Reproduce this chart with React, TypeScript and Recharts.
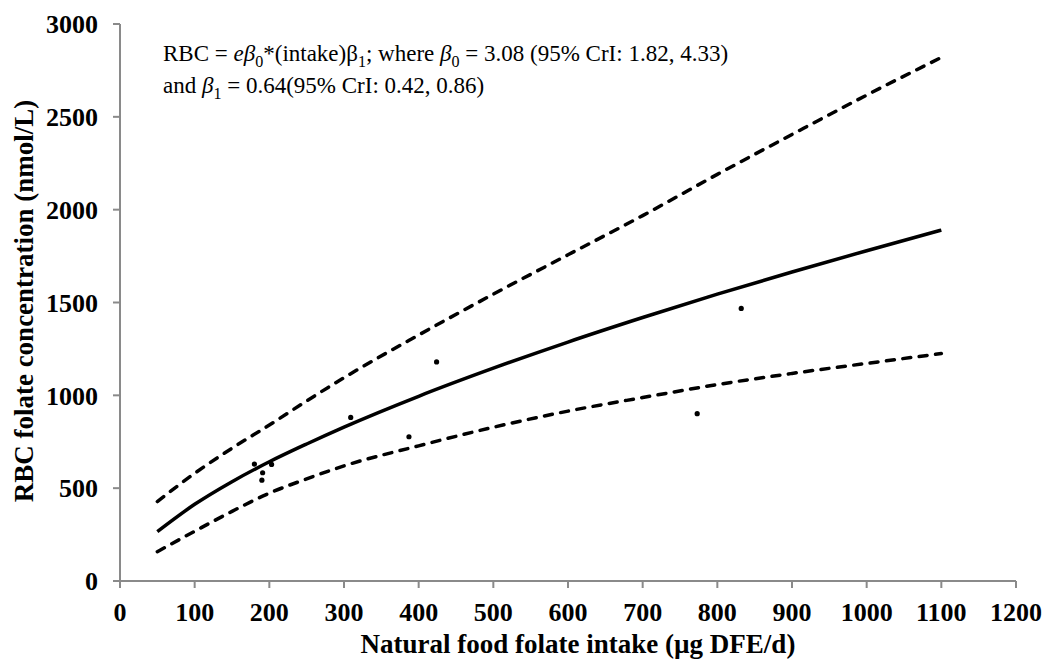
import React from "react";
import {
  ComposedChart,
  Line,
  Scatter,
  XAxis,
  YAxis,
  Label,
} from "recharts";

// fitted curve and 95% CrI band
const intakeGrid = [50, 100, 150, 200, 250, 300, 400, 500, 600, 700, 800, 900, 1000, 1100];
const fittedRbc = [266, 413, 535, 642, 738, 829, 995, 1146, 1287, 1419, 1545, 1664, 1779, 1890];
const upperRbc = [428, 580, 715, 840, 970, 1095, 1325, 1545, 1757, 1968, 2190, 2405, 2617, 2820];
const lowerRbc = [158, 268, 375, 473, 550, 620, 728, 828, 915, 988, 1058, 1118, 1172, 1225];

// observed study points
const obsIntake = [180, 190, 191, 203, 309, 387, 424, 773, 832];
const obsRbc = [630, 543, 583, 628, 881, 777, 1180, 901, 1468];

const xTicks = [0, 100, 200, 300, 400, 500, 600, 700, 800, 900, 1000, 1100, 1200];
const yTicks = [0, 500, 1000, 1500, 2000, 2500, 3000];

const FONT = "'Liberation Serif', 'Times New Roman', serif";
const AXIS = "#8a8a8a";

const curveRows = intakeGrid.map((x, i) => ({
  intake: x,
  fit: fittedRbc[i],
  upper: upperRbc[i],
  lower: lowerRbc[i],
}));

const pointRows = obsIntake.map((x, i) => ({ intake: x, rbc: obsRbc[i] }));

const tickStyle = { fontFamily: FONT, fontSize: 26, fontWeight: 700, fill: "#000" };
const subStyle = { fontSize: "0.7em", verticalAlign: "sub", lineHeight: 0 } as const;

const Dot = (p: any) => <circle cx={p.cx} cy={p.cy} r={2.6} fill="#000" />;

export default function App() {
  return (
    <div style={{ position: "absolute", left: 0, top: 0, width: 1046, height: 663, background: "#fff" }}>
      <ComposedChart
        width={1046}
        height={663}
        data={curveRows}
        margin={{ top: 24, right: 30, bottom: 0, left: 0 }}
      >
        <XAxis
          type="number"
          dataKey="intake"
          domain={[0, 1200]}
          ticks={xTicks}
          interval={0}
          height={82}
          tickSize={7}
          tickMargin={15}
          axisLine={{ stroke: AXIS, strokeWidth: 2 }}
          tickLine={{ stroke: AXIS, strokeWidth: 2 }}
          tick={tickStyle}
        >
          <Label
            content={() => (
              <text x={578} y={653} textAnchor="middle" fontFamily={FONT} fontSize={27} fontWeight={700} fill="#000">
                Natural food folate intake (µg DFE/d)
              </text>
            )}
          />
        </XAxis>
        <YAxis
          type="number"
          domain={[0, 3000]}
          ticks={yTicks}
          interval={0}
          width={120}
          tickSize={7}
          tickMargin={15}
          axisLine={{ stroke: AXIS, strokeWidth: 2 }}
          tickLine={{ stroke: AXIS, strokeWidth: 2 }}
          tick={tickStyle}
        >
          <Label
            content={() => (
              <text
                x={33}
                y={301}
                transform="rotate(-90, 33, 301)"
                textAnchor="middle"
                fontFamily={FONT}
                fontSize={27}
                fontWeight={700}
                fill="#000"
              >
                RBC folate concentration (nmol/L)
              </text>
            )}
          />
        </YAxis>
        <Line
          type="monotone"
          dataKey="upper"
          stroke="#000"
          strokeWidth={3.5}
          strokeDasharray="8 8.5"
          strokeLinecap="round"
          dot={false}
          activeDot={false}
          isAnimationActive={false}
        />
        <Line
          type="monotone"
          dataKey="lower"
          stroke="#000"
          strokeWidth={3.5}
          strokeDasharray="8 8.5"
          strokeLinecap="round"
          dot={false}
          activeDot={false}
          isAnimationActive={false}
        />
        <Line
          type="monotone"
          dataKey="fit"
          stroke="#000"
          strokeWidth={3.5}
          dot={false}
          activeDot={false}
          isAnimationActive={false}
        />
        <Scatter data={pointRows} dataKey="rbc" shape={Dot} isAnimationActive={false} />
      </ComposedChart>
      <div
        style={{
          position: "absolute",
          left: 163,
          top: 38,
          fontFamily: FONT,
          fontSize: 23,
          lineHeight: "32px",
          color: "#000",
          whiteSpace: "nowrap",
        }}
      >
        <div>
          RBC = <i>eβ</i>
          <span style={subStyle}>0</span>*(intake)β
          <span style={subStyle}>1</span>; where <i>β</i>
          <span style={subStyle}>0</span> = 3.08 (95% CrI: 1.82, 4.33)
        </div>
        <div>
          and <i>β</i>
          <span style={subStyle}>1</span> = 0.64(95% CrI: 0.42, 0.86)
        </div>
      </div>
    </div>
  );
}
